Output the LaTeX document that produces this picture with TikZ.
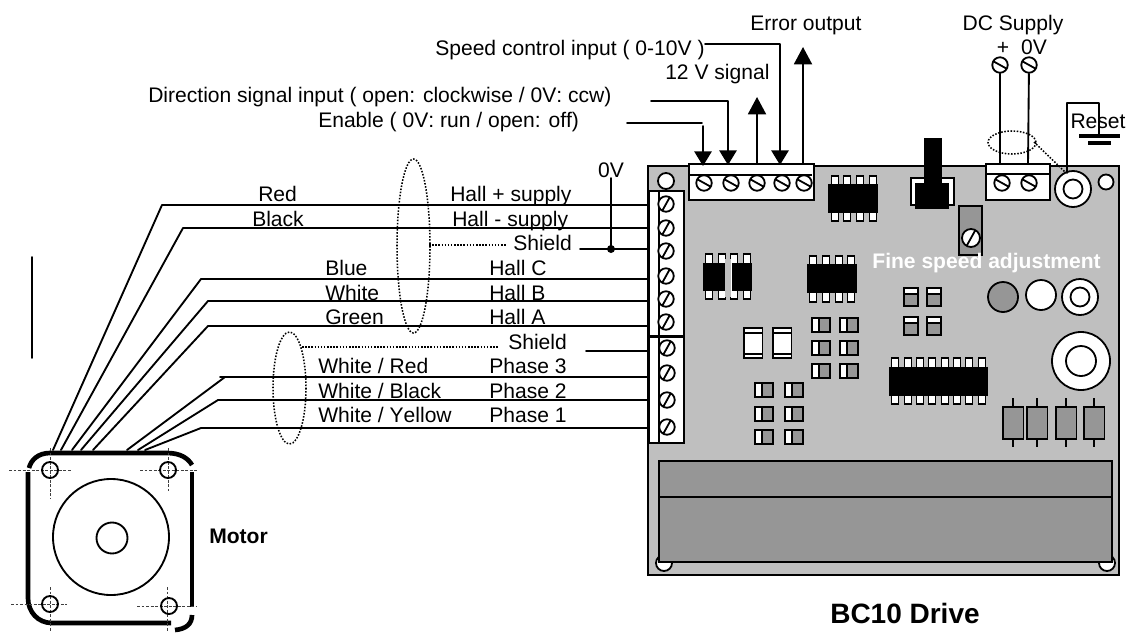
\documentclass[tikz,border=0pt]{standalone}
\usepackage{fontspec}
\setmainfont[Kerning=Off]{Liberation Sans}
\usetikzlibrary{arrows.meta,calc}
\definecolor{boardgray}{HTML}{BFBFBF}
\definecolor{partgray}{HTML}{969696}
\tikzset{
  wire/.style={line width=1.4pt,line cap=round,line join=round},
  thinl/.style={line width=1.1pt},
  part/.style={line width=1.35pt,draw=black},
  dots/.style={line width=1.15pt,dash pattern=on 1.15pt off 1.2pt},
  crossl/.style={line width=.7pt,dash pattern=on 2.2pt off 1.2pt,draw=black!75},
  motorl/.style={line width=3.5pt},
  lbl/.style={anchor=base west,inner sep=0pt,font=\fontsize{15.8}{18}\selectfont},
  mid/.style={anchor=base,inner sep=0pt,font=\fontsize{15.8}{18}\selectfont},
  boldl/.style={anchor=base,inner sep=0pt,font=\fontsize{15.8}{18}\selectfont\bfseries},
  downarrow/.style={wire,-{Triangle[width=13pt,length=11pt]}},
  uparrow/.style={wire,-{Triangle[width=13.5pt,length=13pt]}},
  screwa/.style={circle,draw,fill=white,line width=1.35pt,minimum size=11.6pt,inner sep=0pt,
    path picture={\draw[line width=1.35pt] ($(path picture bounding box.center)+(-9,-5)$) -- ($(path picture bounding box.center)+(9,5)$);}},
  screwb/.style={circle,draw,fill=white,line width=1.35pt,minimum size=11.6pt,inner sep=0pt,
    path picture={\draw[line width=1.35pt] ($(path picture bounding box.center)+(-5,9)$) -- ($(path picture bounding box.center)+(5,-9)$);}},
}
\begin{document}
\begin{tikzpicture}[x=0.75pt,y=-0.75pt]
\useasboundingbox (0,0) rectangle (1127,632);

% board
\draw[part,fill=boardgray,line width=1.5pt] (648,166) rectangle (1119,575);
\draw[part,fill=white] (666,181) circle[radius=8];
\draw[part,fill=white] (1106,182) circle[radius=7.5];
\draw[part,fill=white] (664,563) circle[radius=8];
\draw[part,fill=white] (1107,563) circle[radius=8];
% heat sink
\draw[part,fill=partgray,line width=1.4pt] (659,461) rectangle (1112,562);
\draw[line width=2.2pt] (659,497) -- (1112,497);

% terminal blocks
\draw[part,fill=white,line width=1.4pt] (689,164) rectangle (814,200);
\draw[line width=1.4pt] (689,175) -- (812,175);
\draw[part,fill=white,line width=1.4pt] (986,164) rectangle (1050,200);
\draw[line width=1.4pt] (986,174) -- (1050,174);
\draw[part,fill=white,line width=1.4pt] (649,191) rectangle (684,336);
\draw[part,fill=white,line width=1.4pt] (649,336) rectangle (684,443);
\draw[line width=1.4pt] (659,191) -- (659,443);
\draw[line width=2.2pt] (649,337) -- (684,337);

% switch
\draw[part,fill=white] (911,178) rectangle (954,205);
\fill (924,138) rectangle (942,184);
\fill (915,183) rectangle (949,209);
% pot
\draw[part,fill=partgray] (959,206) rectangle (982,255);

% ICs
\foreach \x in {835,847,860,873}{\draw[part,fill=white] (\x-3.5,176) rectangle (\x+3.5,221);}
\fill (828,184) rectangle (878,213);
\foreach \x in {709,722,734,747}{\draw[part,fill=white] (\x-3.5,254) rectangle (\x+3.5,299);}
\fill (703,263) rectangle (725,291);
\fill (732,263) rectangle (752,291);
\fill[boardgray] (725,259) rectangle (731,297);
\foreach \x in {813,826,839,851}{\draw[part,fill=white] (\x-3.5,256) rectangle (\x+3.5,302);}
\fill (807,264) rectangle (857,293);
\foreach \x in {895,908,920,932,945,957,969,982}{\draw[part,fill=white] (\x-3.5,358) rectangle (\x+3.5,404);}
\fill (889,367) rectangle (988,396);

% vertical SMDs
\foreach \x in {904,927}{\foreach \y in {288,317}{
  \draw[part,fill=partgray] (\x,\y) rectangle (\x+14,\y+18);
  \draw[part,fill=white] (\x,\y) rectangle (\x+14,\y+6);}}
% horizontal SMDs
\foreach \x in {812,840}{\foreach \y in {318,341,364}{
  \draw[part,fill=partgray] (\x,\y) rectangle (\x+18,\y+14);
  \draw[part,fill=white] (\x,\y) rectangle (\x+7,\y+14);}}
\foreach \x in {755,785}{\foreach \y in {383,407,430}{
  \draw[part,fill=partgray] (\x,\y) rectangle (\x+18,\y+14);
  \draw[part,fill=white] (\x,\y) rectangle (\x+7,\y+14);}}
% capacitors
\foreach \x in {744,773}{
  \draw[part,fill=white] (\x,328) rectangle (\x+18.5,358);
  \draw[thinl] (\x,333) -- (\x+18.5,333);
  \draw[thinl] (\x,354) -- (\x+18.5,354);}
% resistors
\foreach \x in {1003,1027,1056,1084}{
  \draw[thinl] (\x+10,398) -- (\x+10,447);
  \draw[part,fill=partgray,line width=1.4pt] (\x,407) rectangle (\x+20.5,439);}
% round parts
\draw[part,fill=partgray] (1003,297) circle[radius=15];
\draw[part,fill=white] (1041,295) circle[radius=15];
\draw[part,fill=white] (1080,297) circle[radius=18];
\draw[part] (1080,297) circle[radius=9.5];
\draw[part,fill=white] (1081,361) circle[radius=29];
\draw[part] (1081,361) circle[radius=15];
\draw[part,fill=white] (1073,189) circle[radius=18];
\draw[part] (1073,189) circle[radius=9.5];

% screws
\node[screwa] (t1) at (704,183) {};
\node[screwa] (t2) at (731,183) {};
\node[screwa] (t3) at (757,183) {};
\node[screwa] (t4) at (782,183) {};
\node[screwa] (t5) at (804,183) {};
\node[screwa] (d1) at (1002,183) {};
\node[screwa] (d2) at (1029,183) {};
\node[screwa] (sp) at (1000,65) {};
\node[screwa] (sn) at (1029,65) {};
\node[screwb] (l1) at (666,204) {};
\node[screwb] (l2) at (666,228) {};
\node[screwb] (l3) at (666,251) {};
\node[screwb] (l4) at (666,276) {};
\node[screwb] (l5) at (666,299) {};
\node[screwb] (l6) at (666,322) {};
\node[screwb] (l7) at (667,348) {};
\node[screwb] (l8) at (667,373) {};
\node[screwb] (l9) at (667,400) {};
\node[screwb] (l10) at (667,427) {};
\node[screwb,minimum size=13.5pt] (pot) at (971,238) {};

% named wire ends
\coordinate (a1) at (649,205); \coordinate (b1) at (162,205); \coordinate (c1) at (53,450);
\coordinate (a2) at (649,228); \coordinate (b2) at (183,228); \coordinate (c2) at (61,450);
\coordinate (a3) at (649,279); \coordinate (b3) at (201,279); \coordinate (c3) at (72,450);
\coordinate (a4) at (649,301); \coordinate (b4) at (208,301); \coordinate (c4) at (81,450);
\coordinate (a5) at (649,326); \coordinate (b5) at (208,326); \coordinate (c5) at (93,450);
\coordinate (a6) at (649,377); \coordinate (b6) at (220,377); \coordinate (e6) at (225,377); \coordinate (c6) at (127,450);
\coordinate (a7) at (649,400); \coordinate (b7) at (218,400); \coordinate (c7) at (138,450);
\coordinate (a8) at (649,428); \coordinate (b8) at (201,428); \coordinate (c8) at (145,450);
\draw[wire] (a1) -- (b1) -- (c1);
\draw[wire] (a2) -- (b2) -- (c2);
\draw[wire] (a3) -- (b3) -- (c3);
\draw[wire] (a4) -- (b4) -- (c4);
\draw[wire] (a5) -- (b5) -- (c5);
\draw[wire] (a6) -- (b6);
\draw[wire] (e6) -- (c6);
\draw[wire] (a7) -- (b7) -- (c7);
\draw[wire] (a8) -- (b8) -- (c8);

% shield stubs and 0V
\coordinate (sh1) at (580,249); \coordinate (sh1e) at (649,249);
\coordinate (sh2) at (586,351); \coordinate (sh2e) at (649,351);
\coordinate (zt) at (611,178); \coordinate (zd) at (611,249);
\draw[wire] (sh1) -- (sh1e);
\draw[wire] (sh2) -- (sh2e);
\draw[wire] (zt) -- (zd);
\fill (zd) circle[radius=4];

% dotted shields
\draw[dots] (413.5,246) ellipse[x radius=16.5,y radius=87];
\draw[dots] (289.5,388) ellipse[x radius=16.5,y radius=56];
\coordinate (ds1) at (429,245); \coordinate (ds1e) at (506,245);
\coordinate (ds2) at (302,347); \coordinate (ds2e) at (498,347);
\draw[dots] (ds1) -- (ds1e);
\draw[dots] (ds2) -- (ds2e);
\draw[dots] (1012,142.5) ellipse[x radius=24,y radius=11.5];
\coordinate (ds3) at (1034,142); \coordinate (ds3e) at (1065,172);
\draw[dots] (ds3) -- (ds3e);

% lone bar
\coordinate (bar1) at (32,257); \coordinate (bar2) at (32,358);
\draw[wire] (bar1) -- (bar2);

% top signals
\coordinate (en0) at (627,123); \coordinate (en1) at (702,123); \coordinate (en2) at (703,126); \coordinate (en3) at (703,166);
\coordinate (di0) at (651,101); \coordinate (di1) at (728,101); \coordinate (di3) at (728,165);
\coordinate (tw0) at (757,164); \coordinate (tw1) at (757,97);
\coordinate (sc0) at (705,44); \coordinate (sc1) at (780,44); \coordinate (sc3) at (780,165);
\coordinate (er0) at (803,164); \coordinate (er1) at (803,47);
\draw[wire] (en0) -- (en1);
\draw[downarrow] (en2) -- (en3);
\draw[downarrow] (di0) -- (di1) -- (di3);
\draw[uparrow] (tw0) -- (tw1);
\draw[downarrow] (sc0) -- (sc1) -- (sc3);
\draw[uparrow] (er0) -- (er1);

% DC supply
\coordinate (dc1) at (1000,164); \coordinate (dc2) at (1028,164);
\draw[wire] (sp) -- (dc1);
\draw[wire] (sn) -- (dc2);

% reset + ground
\coordinate (r0) at (1067,173); \coordinate (r1) at (1067,103); \coordinate (r2) at (1099,103); \coordinate (r3) at (1099,135);
\draw[wire] (r0) -- (r1) -- (r2) -- (r3);
\coordinate (g1) at (1079,136); \coordinate (g2) at (1120,136);
\coordinate (g3) at (1088,143); \coordinate (g4) at (1111,143);
\draw[line width=2.8pt] (g1) -- (g2);
\draw[line width=2.8pt] (g3) -- (g4);

% motor
\draw[motorl] (28,472) -- (28,598) .. controls (28,612) and (38,623) .. (52,623) -- (171,623);
\draw[motorl] (29,468) .. controls (31,460) and (38,453) .. (50,453) -- (167,453) .. controls (180,453) and (188,458) .. (192,465);
\draw[motorl] (192,472) -- (192,607);
\draw[motorl] (192,615) .. controls (192,624) and (186,629) .. (175,630);
\draw[crossl] (9,470) -- (72,470); \draw[crossl] (50,448) -- (50,499);
\draw[crossl] (140,470) -- (197,470); \draw[crossl] (168,448) -- (168,491);
\draw[crossl] (11,604) -- (67,604); \draw[crossl] (50,587) -- (50,632);
\draw[crossl] (137,606) -- (197,606); \draw[crossl] (167,587) -- (167,632);
\draw[wire] (50,470) circle[radius=8];
\draw[wire] (168,470) circle[radius=8];
\draw[wire] (50,604) circle[radius=8];
\draw[wire] (169,606) circle[radius=8];
\draw[wire] (111,537) circle[radius=58];
\draw[wire] (112,538) circle[radius=15.5];

% labels
\node[lbl] (tRed) at (258,201) {Red};
\node[lbl] (tBlack) at (252,226) {Black};
\node[lbl] (tBlue) at (325,275) {Blue};
\node[lbl] (tWhite) at (325,300) {White};
\node[lbl] (tGreen) at (325,324) {Green};
\node[lbl] (tWR) at (318,373) {White / Red};
\node[lbl] (tWB) at (318,398) {White / Black};
\node[lbl] (tWY) at (318,422) {White / Yellow};
\node[lbl] (tHp) at (450,201.5) {Hall + supply};
\node[lbl] (tHm) at (452,226) {Hall - supply};
\node[lbl] (tS1) at (513,250.5) {Shield};
\node[lbl] (tHC) at (489,275) {Hall C};
\node[lbl] (tHB) at (489,300) {Hall B};
\node[lbl] (tHA) at (489,324) {Hall A};
\node[lbl] (tS2) at (508,349) {Shield};
\node[lbl] (tP3) at (489,373) {Phase 3};
\node[lbl] (tP2) at (489,398) {Phase 2};
\node[lbl] (tP1) at (489,422) {Phase 1};
\node[mid] (t0V) at (611,177) {0V};
\node[lbl] (tErr) at (750,30) {Error output};
\node[lbl] (tSpd) at (435,55) {Speed control input ( 0-10V )};
\node[lbl] (t12) at (665,79) {12 V signal};
\node[lbl] (tDir) at (148,102) {Direction signal input ( open: clockwise / 0V: ccw)};
\node[lbl] (tEn) at (318,127) {Enable ( 0V: run / open: off)};
\node[mid] (tDC) at (1013,30) {DC Supply};
\node[mid] (tPl) at (1003,54) {+};
\node[mid] (tZ) at (1034,54) {0V};
\node[mid] (tRes) at (1098,128) {Reset};
\node[boldl] (tMot) at (238.5,543) {Motor};
\node[boldl,text=white] (tFine) at (986.5,268) {Fine speed adjustment};
\node[boldl,font=\fontsize{21}{24}\selectfont\bfseries] (tBC) at (905,623) {BC10 Drive};
\end{tikzpicture}
\end{document}
